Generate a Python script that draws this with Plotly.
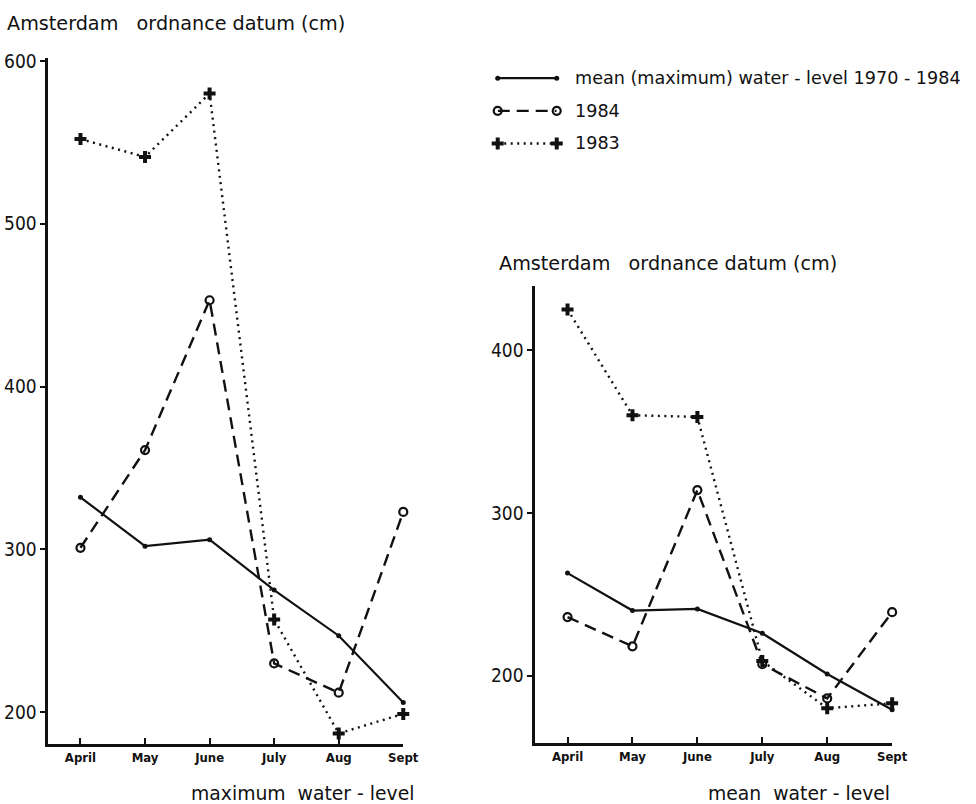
import plotly.graph_objects as go

# Monthly water levels relative to Amsterdam ordnance datum (cm)
months = ["April", "May", "June", "July", "Aug", "Sept"]

# maximum water-level panel
max_mean_7084 = [332, 302, 306, 275, 247, 206]
max_1984 = [301, 361, 453, 230, 212, 323]
max_1983 = [552, 541, 580, 257, 187, 199]

# mean water-level panel
mean_mean_7084 = [263, 240, 241, 226, 201, 179]
mean_1984 = [236, 218, 314, 207, 186, 239]
mean_1983 = [425, 360, 359, 209, 180, 183]

legend_labels = ["mean (maximum) water - level 1970 - 1984", "1984", "1983"]

W, H = 976, 804
FONT = "DejaVu Sans, sans-serif"
FONT_C = "DejaVu Sans Condensed, DejaVu Sans, sans-serif"
BLACK = "#111111"


def px_x(p):
    return p / W


def px_y(p):
    return 1 - p / H


styles = {
    "mean": dict(line=dict(color=BLACK, width=2.2, dash="solid"),
                 marker=dict(symbol="circle", size=5, color=BLACK)),
    "1984": dict(line=dict(color=BLACK, width=2.4, dash="12px,7px"),
                 marker=dict(symbol="circle-open", size=8, color=BLACK,
                             line=dict(width=2.2, color=BLACK))),
    "1983": dict(line=dict(color=BLACK, width=2.4, dash="2px,4.5px"),
                 marker=dict(symbol="cross", size=10, color=BLACK,
                             line=dict(width=0))),
}

fig = go.Figure()

panels = [
    ("x", "y", max_mean_7084, max_1984, max_1983),
    ("x2", "y2", mean_mean_7084, mean_1984, mean_1983),
]
for xa, ya, m, y84, y83 in panels:
    for key, vals in (("mean", m), ("1984", y84), ("1983", y83)):
        fig.add_trace(go.Scatter(
            x=months, y=vals, mode="lines+markers", xaxis=xa, yaxis=ya,
            cliponaxis=False, showlegend=False, hoverinfo="skip",
            **styles[key]))

# legend keys: a short line with a marker at both ends
LEG_TOP, LEG_STEP = 70, 33
for i, key in enumerate(("mean", "1984", "1983")):
    row = 2 - i
    fig.add_trace(go.Scatter(
        x=[0, 1], y=[row, row], mode="lines+markers", xaxis="x3", yaxis="y3",
        cliponaxis=False, showlegend=False, hoverinfo="skip", **styles[key]))
    fig.add_annotation(
        xref="paper", yref="y3", x=px_x(583), y=row, text=legend_labels[i],
        showarrow=False, xanchor="left", yanchor="middle",
        font=dict(family=FONT, size=17.6, color=BLACK))

xaxis_common = dict(
    type="category", showline=True, linecolor=BLACK, linewidth=2.5,
    ticks="inside", ticklen=6, tickwidth=2, tickcolor=BLACK,
    showgrid=False, zeroline=False, range=[-0.5, 5.0],
    tickfont=dict(family=FONT_C, size=13, color=BLACK, weight="bold"),
)
yaxis_common = dict(
    showline=True, linecolor=BLACK, linewidth=2.5,
    ticks="outside", ticklen=5, tickwidth=2, tickcolor=BLACK,
    showgrid=False, zeroline=False, dtick=100,
    tickfont=dict(family=FONT_C, size=19, color=BLACK),
)

fig.update_layout(
    width=W, height=H,
    margin=dict(l=0, r=0, t=0, b=0),
    paper_bgcolor="white", plot_bgcolor="white",
    showlegend=False,
    xaxis=dict(xaxis_common, domain=[px_x(49), px_x(410)], anchor="y"),
    yaxis=dict(yaxis_common, domain=[px_y(743), px_y(50)], anchor="x",
               range=[180.7, 601.5], tickvals=[200, 300, 400, 500, 600]),
    xaxis2=dict(xaxis_common, domain=[px_x(544), px_x(907)], anchor="y2"),
    yaxis2=dict(yaxis_common, domain=[px_y(742), px_y(280)], anchor="x2",
                range=[158.8, 439.5], tickvals=[200, 300, 400]),
    xaxis3=dict(domain=[px_x(506), px_x(566)], anchor="y3", range=[0, 1],
                visible=False, fixedrange=True),
    yaxis3=dict(domain=[px_y(LEG_TOP + 2 * LEG_STEP + 10), px_y(LEG_TOP - 10)],
                anchor="x3",
                range=[-10 / LEG_STEP, 2 + 10 / LEG_STEP],
                visible=False, fixedrange=True),
)

texts = [
    ("Amsterdam   ordnance datum (cm)", 5, 15, "left", 19.2),
    ("Amsterdam   ordnance datum (cm)", 505, 257, "left", 19.2),
    ("maximum  water - level", 308, 793, "center", 18.8),
    ("mean  water - level", 812, 793, "center", 18.8),
]
for t, x, y, anchor, size in texts:
    fig.add_annotation(
        xref="paper", yref="paper", x=px_x(x), y=px_y(y), text=t,
        showarrow=False, xanchor=anchor, yanchor="middle",
        font=dict(family=FONT, size=size, color=BLACK))

fig.write_html("out.html")
